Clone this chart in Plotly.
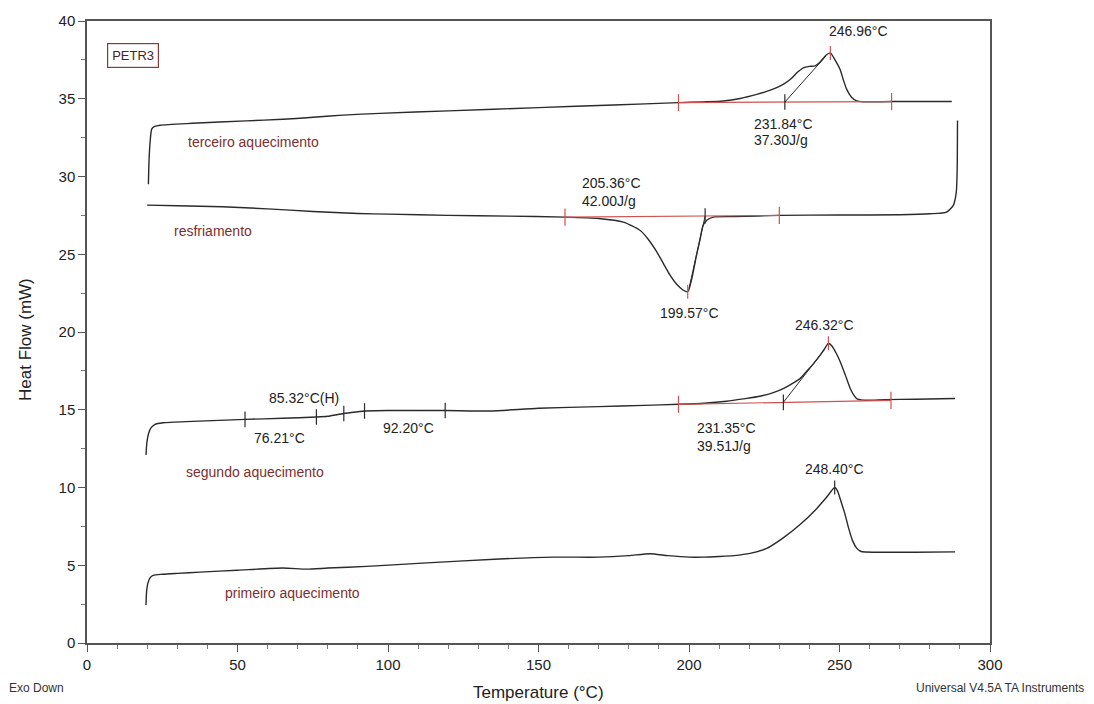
import numpy as np
import plotly.graph_objects as go

# ---- DSC curves, PETR3 (temperature in °C, heat flow in mW) ----
t_first = [19.6, 19.8, 20.3, 21.0, 22.0, 25, 30, 37.5, 50, 65, 73, 80, 92.9, 110, 137, 155, 170,
           180, 187, 193, 200, 205, 210, 215, 220.3, 225.8, 231.3, 236.9, 242.4, 245.7, 248.4,
           249.3, 250.5, 251.8, 253, 254.3, 255.7, 257, 258.5, 265, 275, 288.4]
hf_first = [2.45, 3.3, 3.9, 4.2, 4.35, 4.42, 4.48, 4.56, 4.68, 4.82, 4.75, 4.82, 4.93, 5.12, 5.4,
            5.52, 5.52, 5.62, 5.74, 5.62, 5.52, 5.52, 5.56, 5.62, 5.76, 6.08, 6.76, 7.62, 8.64, 9.37,
            10.0, 9.8, 9.1, 8.3, 7.4, 6.6, 6.1, 5.9, 5.85, 5.84, 5.84, 5.86]

t_second = [19.6, 19.9, 20.5, 21.3, 22.5, 25.3, 35, 52.5, 65, 76.2, 80, 85.3, 90, 92.2, 100, 119,
            134, 150, 170, 185, 196.5, 205, 212.5, 218, 223.6, 228, 231.3, 234, 236.9, 239, 241.3,
            243.5, 245.3, 246.3, 247.5, 249, 250.2, 251.8, 253.5, 254.7, 255.7, 258, 265, 275, 288.4]
hf_second = [12.1, 12.9, 13.5, 13.85, 14.05, 14.16, 14.25, 14.38, 14.45, 14.53, 14.58, 14.76, 14.87,
             14.92, 14.95, 14.95, 14.92, 15.1, 15.2, 15.28, 15.35, 15.42, 15.55, 15.7, 15.87, 16.1,
             16.36, 16.65, 17.0, 17.45, 17.95, 18.5, 19.0, 19.28, 19.1, 18.6, 18.1, 17.3, 16.4,
             15.95, 15.72, 15.62, 15.65, 15.68, 15.72]

t_cool = [20.0, 30, 45, 60, 75, 90, 100, 120, 140, 158.8, 170, 178.2, 183.7, 186.5, 189.3, 191.5,
          193.7, 196, 198, 199.6, 201, 202.5, 203.6, 204.7, 206, 208.1, 215, 230, 250, 270, 280,
          285.6, 287.8, 288.8, 289.1, 289.2]
hf_cool = [28.16, 28.12, 28.05, 27.92, 27.75, 27.62, 27.58, 27.5, 27.45, 27.39, 27.3, 27.07, 26.54,
           25.95, 25.15, 24.4, 23.66, 23.05, 22.7, 22.59, 23.5, 24.94, 25.9, 26.86, 27.2, 27.39,
           27.42, 27.5, 27.52, 27.54, 27.6, 27.71, 28.14, 29.0, 30.5, 33.6]

t_third = [20.4, 20.6, 21.0, 21.5, 22.5, 24.3, 35, 53, 65, 74.1, 85, 97.3, 120, 150, 175, 196.5,
           205, 211.4, 217, 222.5, 227, 231.3, 234, 236, 238, 240, 241.9, 243.5, 245.5, 246.96,
           248.5, 250.2, 251.3, 252.4, 254, 255.7, 258, 267.3, 287.3]
hf_third = [29.5, 31.0, 32.3, 33.05, 33.22, 33.3, 33.42, 33.58, 33.68, 33.79, 33.95, 34.06, 34.22,
            34.43, 34.6, 34.75, 34.8, 34.86, 35.02, 35.28, 35.55, 35.92, 36.3, 36.7, 36.99, 37.08,
            37.12, 37.35, 37.8, 37.95, 37.5, 36.88, 36.2, 35.6, 35.1, 34.86, 34.8, 34.82, 34.82]

# Integration limits (°C) and baseline heat flow at those limits (mW)
third_limits = [196.5, 267.3]
third_base = [34.75, 34.82]
cool_limits = [158.8, 230.0]
cool_base = [27.39, 27.5]
second_limits = [196.5, 267.1]
second_base = [15.35, 15.6]

# Analysis results
third_onset, third_peak, third_enthalpy = 231.84, 246.96, 37.30
cool_onset, cool_peak, cool_enthalpy = 205.36, 199.57, 42.00
second_onset, second_peak, second_enthalpy = 231.35, 246.32, 39.51
first_peak = 248.40
tg_onset, tg_mid, tg_end = 76.21, 85.32, 92.20
tg_limits = [52.5, 119.0]

# Tangent end points on the leading edges (°C)
third_tangent_end = 245.5
cool_tangent_end = 200.0
second_tangent_end = 245.0

CURVE = "#2a2a2a"
RED = "#d0514f"
LABEL = "#7b2f2f"
FONT = "Liberation Sans, Arial, sans-serif"

fig = go.Figure()
for t, hf in [(t_first, hf_first), (t_second, hf_second), (t_cool, hf_cool), (t_third, hf_third)]:
    fig.add_trace(go.Scatter(x=t, y=hf, mode="lines", line=dict(color=CURVE, width=1.4, shape="spline", smoothing=0.6),
                             hoverinfo="skip", showlegend=False))

# Red integration baselines
for lim, base in [(third_limits, third_base), (cool_limits, cool_base), (second_limits, second_base)]:
    fig.add_trace(go.Scatter(x=lim, y=base, mode="lines", line=dict(color=RED, width=1.2),
                             hoverinfo="skip", showlegend=False))


def on_base(t, lim, base):
    return float(np.interp(t, lim, base))


def on_curve(t, ts, hfs):
    return float(np.interp(t, ts, hfs))


def tick(x, y, color, half=0.5):
    fig.add_shape(type="line", x0=x, x1=x, y0=y - half, y1=y + half, xref="x", yref="y",
                  line=dict(color=color, width=1.2))


# Limit ticks on baselines
for lim, base in [(third_limits, third_base), (cool_limits, cool_base), (second_limits, second_base)]:
    for t in lim:
        tick(t, on_base(t, lim, base), RED, 0.55)

# Onset ticks and tangents
for onset, lim, base, tend, ts, hfs in [
        (third_onset, third_limits, third_base, third_tangent_end, t_third, hf_third),
        (cool_onset, cool_limits, cool_base, cool_tangent_end, t_cool, hf_cool),
        (second_onset, second_limits, second_base, second_tangent_end, t_second, hf_second)]:
    yb = on_base(onset, lim, base)
    tick(onset, yb, CURVE, 0.5)
    fig.add_shape(type="line", x0=onset, y0=yb, x1=tend, y1=on_curve(tend, ts, hfs) - 0.05,
                  xref="x", yref="y", line=dict(color=CURVE, width=1))

# Peak ticks
tick(third_peak, on_curve(third_peak, t_third, hf_third), RED, 0.45)
tick(cool_peak, on_curve(cool_peak, t_cool, hf_cool), RED, 0.45)
tick(second_peak, on_curve(second_peak, t_second, hf_second), RED, 0.45)
tick(first_peak, on_curve(first_peak, t_first, hf_first), CURVE, 0.45)

# Glass transition ticks
for t in [tg_limits[0], tg_onset, tg_mid, tg_end, tg_limits[1]]:
    tick(t, on_curve(t, t_second, hf_second), CURVE, 0.5)

ann = []


def text(x, y, s, color="#222", size=14, xanchor="center"):
    ann.append(dict(x=x, y=y, xref="x", yref="y", text=s, showarrow=False, xanchor=xanchor,
                    yanchor="middle", font=dict(family=FONT, size=size, color=color)))


# Peak / onset / enthalpy labels
text(third_peak + 9.5, on_curve(third_peak, t_third, hf_third) + 1.4, f"{third_peak:.2f}°C")
text(third_onset - 10.8, third_base[0] - 1.35, f"{third_onset:.2f}°C", xanchor="left")
text(third_onset - 10.8, third_base[0] - 2.4, f"{third_enthalpy:.2f}J/g", xanchor="left")

text(cool_onset - 41.5, cool_base[0] + 2.2, f"{cool_onset:.2f}°C", xanchor="left")
text(cool_onset - 41.5, cool_base[0] + 1.05, f"{cool_enthalpy:.2f}J/g", xanchor="left")
text(cool_peak + 0.5, on_curve(cool_peak, t_cool, hf_cool) - 1.4, f"{cool_peak:.2f}°C")

text(second_peak - 1.4, on_curve(second_peak, t_second, hf_second) + 1.2, f"{second_peak:.2f}°C")
text(second_onset - 29.3, second_base[0] - 1.55, f"{second_onset:.2f}°C", xanchor="left")
text(second_onset - 29.3, second_base[0] - 2.7, f"{second_enthalpy:.2f}J/g", xanchor="left")

text(first_peak, on_curve(first_peak, t_first, hf_first) + 1.2, f"{first_peak:.2f}°C")

text(tg_mid - 13.2, 15.76, f"{tg_mid:.2f}°C(H)")
text(tg_onset - 12.4, 13.2, f"{tg_onset:.2f}°C")
text(tg_end + 14.6, 13.8, f"{tg_end:.2f}°C")

# Curve names
text(55.3, 32.2, "terceiro aquecimento", LABEL)
text(41.8, 26.5, "resfriamento", LABEL)
text(55.8, 11.0, "segundo aquecimento", LABEL)
text(68.4, 3.2, "primeiro aquecimento", LABEL)

# Sample tag in a box
ann.append(dict(x=15.2, y=37.8, xref="x", yref="y", text="PETR3", showarrow=False,
                font=dict(family=FONT, size=13, color="#4a2323"), bordercolor="#8b3a3a",
                borderwidth=1.2, borderpad=4, bgcolor="white"))

# Axis titles and footer
ann.append(dict(x=0.5, y=0, xref="paper", yref="paper", yanchor="top", yshift=-38,
                text="Temperature (°C)", showarrow=False, font=dict(family=FONT, size=17, color="#222")))
ann.append(dict(x=0, y=0.5, xref="paper", yref="paper", xanchor="center", xshift=-62, yshift=-8,
                textangle=-90, text="Heat Flow (mW)", showarrow=False,
                font=dict(family=FONT, size=17, color="#222")))
ann.append(dict(x=0, y=0, xref="paper", yref="paper", xanchor="left", yanchor="middle",
                xshift=-80, yshift=-45, text="Exo Down", showarrow=False,
                font=dict(family=FONT, size=12, color="#333")))
ann.append(dict(x=1, y=0, xref="paper", yref="paper", xanchor="right", yanchor="middle",
                xshift=96, yshift=-45, text="Universal V4.5A TA Instruments", showarrow=False,
                font=dict(family=FONT, size=12, color="#333")))

fig.update_layout(
    width=1094, height=704,
    margin=dict(l=87, r=104, t=18, b=61),
    paper_bgcolor="white", plot_bgcolor="white",
    annotations=ann,
    font=dict(family=FONT, size=15, color="#222"),
    xaxis=dict(range=[0, 300], tickvals=[0, 50, 100, 150, 200, 250, 300], showgrid=False, zeroline=False,
               showline=True, linecolor="#555", linewidth=1.5, mirror=True,
               ticks="outside", ticklen=7, tickcolor="#555", tickwidth=1.2,
               minor=dict(dtick=10, ticks="outside", ticklen=4, tickcolor="#777"),
               tickfont=dict(size=15)),
    yaxis=dict(range=[0, 40], tickvals=[0, 5, 10, 15, 20, 25, 30, 35, 40], showgrid=False, zeroline=False,
               showline=True, linecolor="#555", linewidth=1.5, mirror=True,
               ticks="outside", ticklen=7, tickcolor="#555", tickwidth=1.2,
               minor=dict(dtick=2.5, ticks="outside", ticklen=4, tickcolor="#777"),
               tickfont=dict(size=15)),
)

fig.write_html("out.html")
